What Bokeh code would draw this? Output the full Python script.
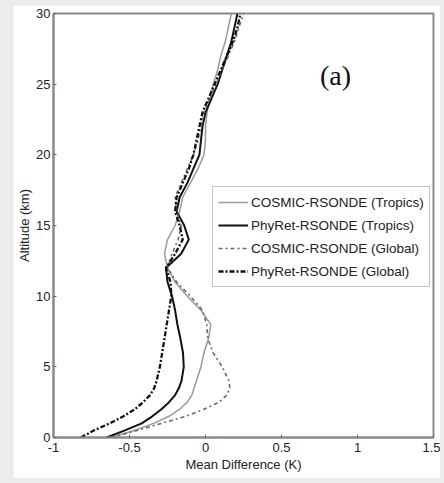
from bokeh.plotting import figure
from bokeh.models import Range1d, FixedTicker, Legend, LegendItem, Label
from bokeh.embed import file_html
from bokeh.resources import INLINE

# Altitude grids (km) and mean differences (K)
alt = [0, 0.5, 1, 1.5, 2, 2.5, 3, 3.5, 4, 5, 6, 7, 8, 9, 10, 11, 12, 13, 14, 15,
       16, 17, 18, 19, 20, 21, 22, 23, 24, 25, 26, 27, 28, 29, 30]

cosmic_tropics = [-0.62, -0.47, -0.34, -0.24, -0.17, -0.12, -0.09, -0.075, -0.06, -0.03,
                  -0.01, 0.02, 0.035, -0.03, -0.12, -0.2, -0.25, -0.27, -0.25, -0.2,
                  -0.17, -0.15, -0.1, -0.05, -0.01, 0.0, 0.0, 0.01, 0.03, 0.05,
                  0.08, 0.1, 0.13, 0.15, 0.17]

phyret_tropics = [-0.65, -0.53, -0.42, -0.35, -0.29, -0.24, -0.2, -0.175, -0.158, -0.143,
                  -0.148, -0.165, -0.185, -0.2, -0.22, -0.25, -0.26, -0.16, -0.11, -0.14,
                  -0.19, -0.17, -0.12, -0.08, -0.04, -0.03, -0.02, 0.0, 0.04, 0.08,
                  0.11, 0.14, 0.17, 0.19, 0.21]

cosmic_global = [-0.62, -0.45, -0.29, -0.13, -0.01, 0.09, 0.14, 0.16, 0.155, 0.11,
                 0.05, 0.015, 0.008, -0.02, -0.1, -0.19, -0.25, -0.22, -0.18, -0.16,
                 -0.19, -0.2, -0.16, -0.12, -0.08, -0.05, -0.03, -0.01, 0.03, 0.07,
                 0.11, 0.15, 0.19, 0.22, 0.25]

phyret_global = [-0.82, -0.735, -0.63, -0.54, -0.465, -0.41, -0.365, -0.337, -0.322, -0.30,
                 -0.285, -0.27, -0.255, -0.24, -0.225, -0.23, -0.26, -0.2, -0.15, -0.17,
                 -0.2, -0.19, -0.15, -0.11, -0.08, -0.06, -0.04, -0.02, 0.02, 0.06,
                 0.1, 0.14, 0.18, 0.21, 0.23]

series_names = ["COSMIC-RSONDE (Tropics)", "PhyRet-RSONDE (Tropics)",
                "COSMIC-RSONDE (Global)", "PhyRet-RSONDE (Global)"]

x_ticks = [-1, -0.5, 0, 0.5, 1, 1.5]
x_tick_labels = ["-1", "-0.5", "0", "0.5", "1", "1.5"]
y_ticks = [0, 5, 10, 15, 20, 25, 30]
y_tick_labels = ["0", "5", "10", "15", "20", "25", "30"]

FONT = "'Liberation Sans', Arial, sans-serif"

p = figure(frame_width=380, frame_height=424, output_backend="svg",
           toolbar_location=None, x_range=Range1d(-1, 1.5), y_range=Range1d(0, 30),
           min_border_left=40, min_border_right=7, min_border_top=8, min_border_bottom=41)
p.background_fill_color = "white"
p.border_fill_color = "white"
p.grid.visible = False
p.outline_line_color = "#8a8a8a"
p.outline_line_width = 2

for ax in (p.xaxis[0], p.yaxis[0]):
    ax.axis_line_color = "#8a8a8a"
    ax.axis_line_width = 2
    ax.major_tick_in = 3
    ax.major_tick_out = 0
    ax.minor_tick_line_color = None
    ax.major_tick_line_color = "#666666"
    ax.major_label_text_font = FONT
    ax.major_label_text_font_size = "13px"
    ax.major_label_text_color = "#222222"
    ax.axis_label_text_font = FONT
    ax.axis_label_text_font_size = "13px"
    ax.axis_label_text_font_style = "normal"
    ax.axis_label_text_color = "#222222"

p.xaxis.ticker = FixedTicker(ticks=x_ticks)
p.xaxis.major_label_overrides = {t: l for t, l in zip(x_ticks, x_tick_labels)}
p.yaxis.ticker = FixedTicker(ticks=y_ticks)
p.yaxis.major_label_overrides = {t: l for t, l in zip(y_ticks, y_tick_labels)}
p.xaxis.axis_label = "Mean Difference (K)"
p.yaxis.axis_label = "Altitude (km)"
p.xaxis.major_label_standoff = 5
p.xaxis.axis_label_standoff = 2
p.yaxis.major_label_standoff = 3
p.yaxis.axis_label_standoff = 1

r1 = p.line(cosmic_tropics, alt, line_color="#9a9a9a", line_width=1.5)
r2 = p.line(phyret_tropics, alt, line_color="#111111", line_width=2)
r3 = p.line(cosmic_global, alt, line_color="#6a6a6a", line_width=1.6, line_dash="4 3 2 3")
r4 = p.line(phyret_global, alt, line_color="#111111", line_width=2.3, line_dash="5 2 2 2")

legend = Legend(items=[LegendItem(label=n, renderers=[r]) for n, r in
                       zip(series_names, [r1, r2, r3, r4])],
                location=(159, 150))
legend.label_text_font = FONT
legend.label_text_font_size = "13.5px"
legend.label_text_color = "#222222"
legend.glyph_width = 30
legend.glyph_height = 20
legend.label_height = 20
legend.spacing = 3
legend.padding = 5
legend.margin = 0
legend.label_standoff = 3
legend.border_line_color = "#8a8a8a"
legend.border_line_width = 1.5
legend.background_fill_color = "white"
p.add_layout(legend)

p.add_layout(Label(x=0.855, y=25.6, text="(a)", text_font="'Liberation Serif', 'Times New Roman', serif",
                   text_font_size="28px", text_align="center", text_baseline="middle",
                   text_color="#111111"))

html = file_html(p, INLINE)
html = html.replace("</head>",
                    "<style>html, body{background:#ececec !important;} "
                    "body{padding:5px 0 0 13px !important; margin:0 !important;}</style></head>", 1)
open("out.html", "w").write(html)
